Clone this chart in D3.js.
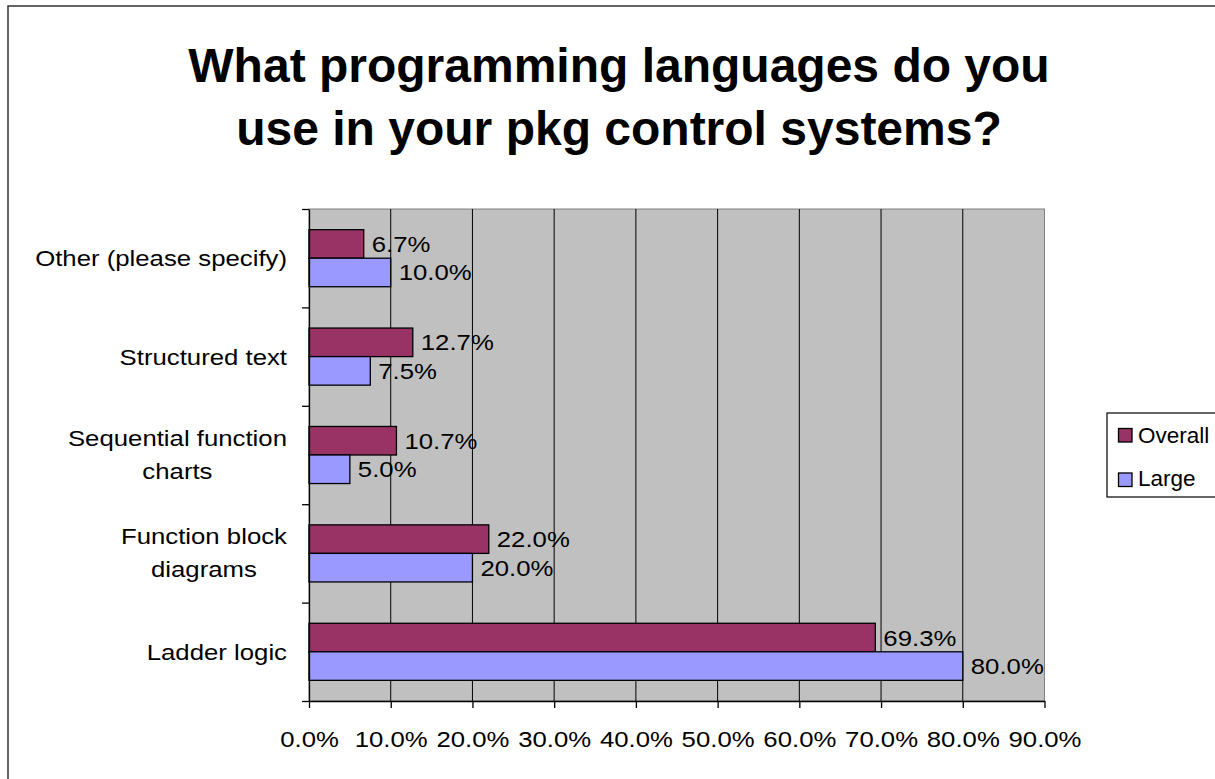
<!DOCTYPE html>
<html>
<head>
<meta charset="utf-8">
<script src="https://cdn.jsdelivr.net/npm/d3@7"></script>
<style>
  html, body { margin: 0; padding: 0; background: #fff; overflow: hidden; }
  svg { display: block; font-family: "Liberation Sans", Arial, sans-serif; }
</style>
</head>
<body>
<svg id="chart" width="1215" height="779"></svg>
<script>
// ---- data ----
const titleLines = ["What programming languages do you", "use in your pkg control systems?"];
const categories = ["Ladder logic", "Function block diagrams", "Sequential function charts", "Structured text", "Other (please specify)"];
const categoryLabelLines = [["Ladder logic"], ["Function block", "diagrams"], ["Sequential function", "charts"], ["Structured text"], ["Other (please specify)"]];
const seriesNames = ["Overall", "Large"];
const overallValues = [0.693, 0.220, 0.107, 0.127, 0.067];
const largeValues = [0.800, 0.200, 0.050, 0.075, 0.100];
const xTicks = [0, 0.1, 0.2, 0.3, 0.4, 0.5, 0.6, 0.7, 0.8, 0.9];
const seriesColors = ["#993366", "#9999FF"];

// ---- layout ----
const svg = d3.select("#chart");
const plot = { left: 309, right: 1044.5, top: 209, bottom: 701 };
const SX = 1.12;   // horizontal stretch of the text
const FS = 23;

// outer chart border
svg.append("rect").attr("x", 8).attr("y", 6).attr("width", 1300).attr("height", 900)
  .attr("fill", "#fff").attr("stroke", "#333").attr("stroke-width", 1.5);

// title
svg.append("g").selectAll("text").data(titleLines).join("text")
  .attr("x", 619).attr("y", (d, i) => 82 + i * 63)
  .attr("text-anchor", "middle").attr("font-weight", "bold").attr("font-size", 48)
  .attr("fill", "#000").text(d => d);

const x = d3.scaleLinear().domain([0, 0.9]).range([plot.left, plot.right]);
const y = d3.scaleBand().domain(categories.slice().reverse()).range([plot.top, plot.bottom])
  .paddingInner(0.42).paddingOuter(0.21);
const ySeries = d3.scaleBand().domain(seriesNames).range([0, y.bandwidth()]);
const yIdx = d3.scaleLinear().domain([0, categories.length]).range([plot.bottom, plot.top]);

// plot background
svg.append("rect").attr("x", plot.left).attr("y", plot.top)
  .attr("width", plot.right - plot.left).attr("height", plot.bottom - plot.top)
  .attr("fill", "#C0C0C0").attr("stroke", "#808080").attr("stroke-width", 1);

// gridlines
svg.append("g").selectAll("line").data(xTicks.filter(t => t > 0 && t < 0.9)).join("line")
  .attr("x1", d => x(d)).attr("x2", d => x(d))
  .attr("y1", plot.top).attr("y2", plot.bottom)
  .attr("stroke", "#000").attr("stroke-width", 1);

// bars
const series = [overallValues, largeValues];
const gBars = svg.append("g");
series.forEach((vals, si) => {
  gBars.append("g").selectAll("rect").data(categories).join("rect")
    .attr("x", x(0))
    .attr("y", (c) => y(c) + ySeries(seriesNames[si]))
    .attr("width", (c, i) => x(vals[i]) - x(0))
    .attr("height", ySeries.bandwidth())
    .attr("fill", seriesColors[si]).attr("stroke", "#000").attr("stroke-width", 1.3);
  // value labels
  gBars.append("g").selectAll("g").data(categories).join("g")
    .attr("transform", (c, i) => `translate(${x(vals[i]) + 8},${y(c) + ySeries(seriesNames[si]) + ySeries.bandwidth() / 2 + 8})`)
    .append("text").attr("transform", `scale(${SX},1)`)
    .attr("font-size", FS).attr("fill", "#000")
    .text((c, i) => d3.format(".1%")(vals[i]));
});

// x axis
const xAxis = svg.append("g").attr("transform", `translate(0,${plot.bottom})`)
  .call(d3.axisBottom(x).tickValues(xTicks).tickFormat(d3.format(".1%")).tickSize(7).tickSizeOuter(0));
xAxis.select(".domain").attr("stroke", "#000").attr("stroke-width", 1.3);
xAxis.selectAll(".tick line").attr("stroke", "#000").attr("stroke-width", 1.3);
xAxis.selectAll(".tick text").attr("font-size", FS).attr("font-family", "Liberation Sans, Arial, sans-serif")
  .attr("fill", "#000").attr("y", 46).attr("dy", 0).attr("transform", `scale(${SX},1)`);

// y axis (ticks at category boundaries)
const yAxis = svg.append("g").attr("transform", `translate(${plot.left},0)`)
  .call(d3.axisLeft(yIdx).tickValues(d3.range(categories.length + 1)).tickFormat("").tickSize(7).tickSizeOuter(0));
yAxis.select(".domain").attr("stroke", "#000").attr("stroke-width", 1.3);
yAxis.selectAll(".tick line").attr("stroke", "#000").attr("stroke-width", 1.3);

// category labels
const labelRight = 287;
const gLab = svg.append("g");
categories.forEach((c, i) => {
  const lines = categoryLabelLines[i];
  const cy = y(c) + y.bandwidth() / 2;
  const g = gLab.append("g");
  if (lines.length === 1) {
    g.append("g").attr("transform", `translate(${labelRight},${cy + 8})`)
      .append("text").attr("transform", `scale(${SX},1)`).attr("text-anchor", "end")
      .attr("font-size", FS).attr("fill", "#000").text(lines[0]);
  } else {
    const tmp = g.append("text").attr("font-size", FS).text(lines[0]);
    const w = tmp.node().getComputedTextLength() * SX;
    tmp.remove();
    const cx = labelRight - w / 2;
    lines.forEach((ln, li) => {
      g.append("g").attr("transform", `translate(${cx},${cy - 9.5 + li * 33})`)
        .append("text").attr("transform", `scale(${SX},1)`).attr("text-anchor", "middle")
        .attr("font-size", FS).attr("fill", "#000").text(ln);
    });
  }
});

// legend
const leg = svg.append("g");
leg.append("rect").attr("x", 1107).attr("y", 413).attr("width", 200).attr("height", 84)
  .attr("fill", "#fff").attr("stroke", "#000").attr("stroke-width", 1.2);
seriesNames.forEach((s, i) => {
  leg.append("rect").attr("x", 1118.5).attr("y", 428.5 + i * 44.5).attr("width", 13.5).attr("height", 13.5)
    .attr("fill", seriesColors[i]).attr("stroke", "#000").attr("stroke-width", 1.3);
  leg.append("text").attr("x", 1138).attr("y", 443 + i * 43)
    .attr("font-size", 22.5).attr("fill", "#000").text(s);
});
</script>
</body>
</html>
